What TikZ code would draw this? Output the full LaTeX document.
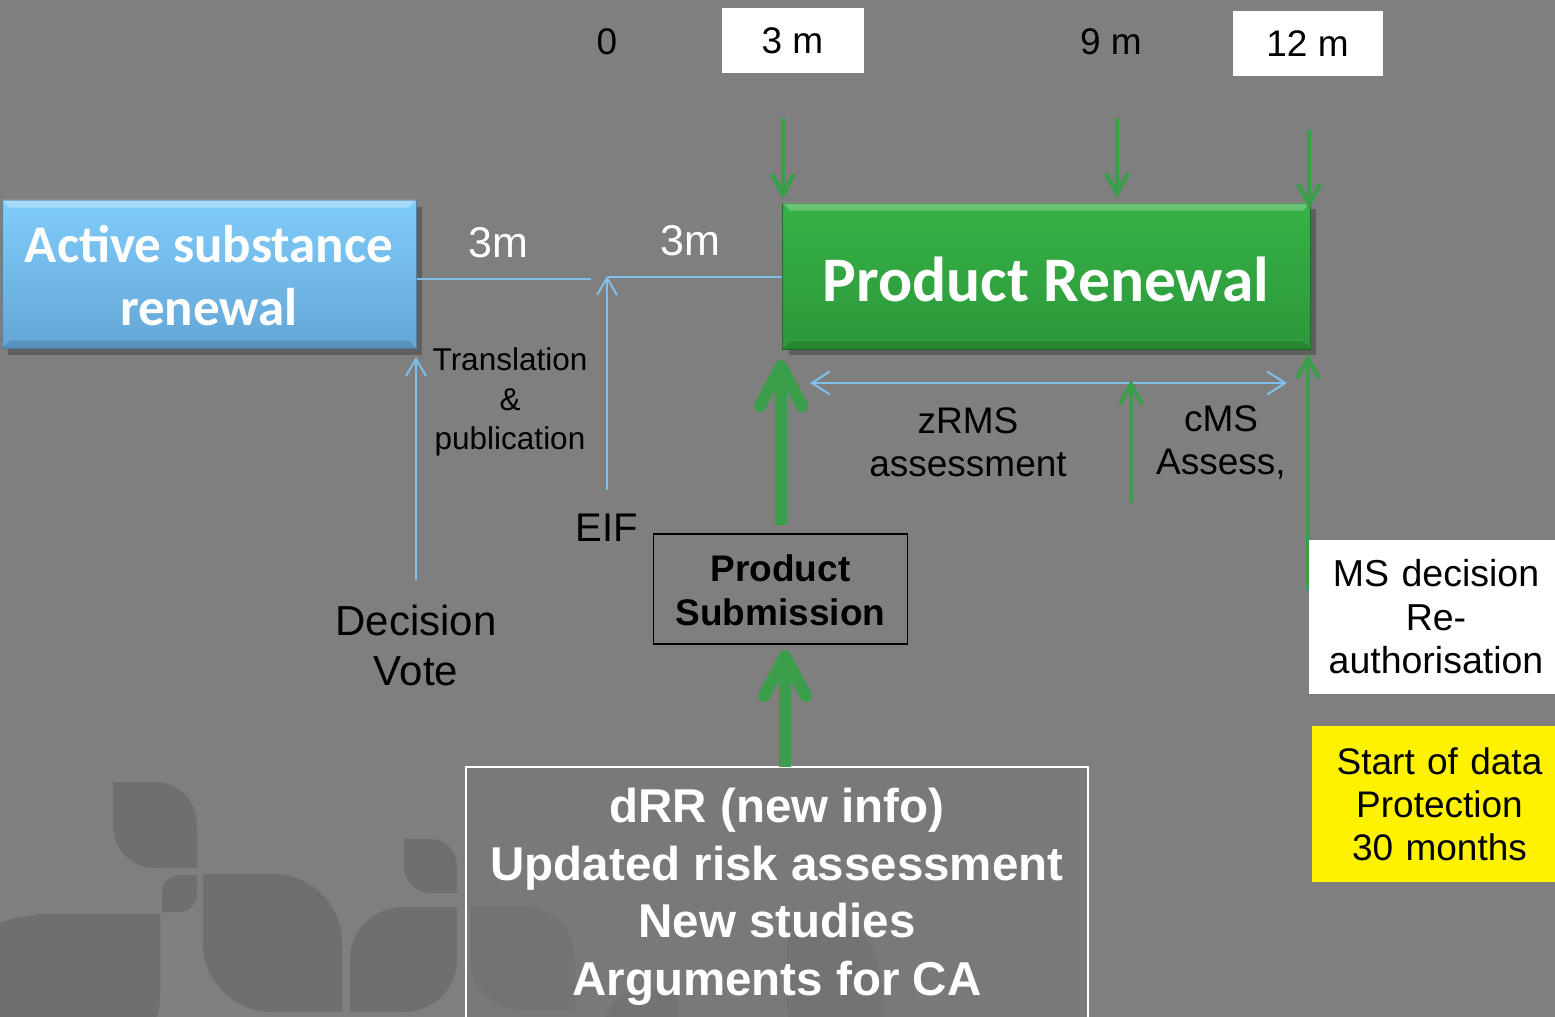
\documentclass[tikz,border=0pt]{standalone}
\usepackage{fontspec}
\setmainfont{Liberation Sans}
\newfontfamily\calibri{Carlito}
\usetikzlibrary{arrows.meta,calc}
\definecolor{bg}{RGB}{127,127,127}
\definecolor{leafc}{RGB}{111,111,111}
\definecolor{boxfade}{RGB}{118,118,118}
\definecolor{lblue}{RGB}{128,192,236}
\definecolor{garrow}{RGB}{58,158,74}
\definecolor{btop}{RGB}{128,204,250}
\definecolor{bbot}{RGB}{100,166,214}
\definecolor{bedge}{RGB}{80,130,175}
\definecolor{gtop}{RGB}{54,178,70}
\definecolor{gbot}{RGB}{44,152,58}
\definecolor{gedge}{RGB}{30,110,40}
% leaf with sharp top-left and bottom-right corners
\newcommand\leafTL[4]{\fill[leafc] (#1,#2) -- ({#3-0.5*(#3-#1)},#2) .. controls ({#3-0.22*(#3-#1)},#2) and (#3,{#2+0.22*(#4-#2)}) .. (#3,{#2+0.5*(#4-#2)}) -- (#3,#4) -- ({#1+0.5*(#3-#1)},#4) .. controls ({#1+0.22*(#3-#1)},#4) and (#1,{#4-0.22*(#4-#2)}) .. (#1,{#4-0.5*(#4-#2)}) -- cycle;}
% leaf with sharp top-right and bottom-left corners
\newcommand\leafTR[4]{\fill[leafc] ({#1+0.5*(#3-#1)},#2) -- (#3,#2) -- (#3,{#2+0.5*(#4-#2)}) .. controls (#3,{#4-0.22*(#4-#2)}) and ({#3-0.22*(#3-#1)},#4) .. ({#3-0.5*(#3-#1)},#4) -- (#1,#4) -- (#1,{#4-0.5*(#4-#2)}) .. controls (#1,{#2+0.22*(#4-#2)}) and ({#1+0.22*(#3-#1)},#2) .. cycle;}
\tikzset{
  fs/.style={font=\fontsize{#1}{#1}\selectfont},
  txt/.style={align=center, inner sep=0pt, text=black},
  thinblue/.style={draw=lblue, line width=2pt},
  bluearrow/.style={thinblue, -{Straight Barb[length=17pt,width=20pt]}},
  greenthin/.style={draw=garrow, line width=4.5pt, -{Straight Barb[length=20pt,width=22pt]}},
  greenthick/.style={draw=garrow, line width=12pt, -{Straight Barb[length=40pt,width=42pt,round]}},
  labelbox/.style={fill=white, inner sep=0pt, txt},
}
\begin{document}
\begin{tikzpicture}[x=1pt,y=-1pt]
\useasboundingbox (0,0) rectangle (1555,1017);
\fill[bg] (0,0) rectangle (1555,1017);
% background leaves
\leafTL{113}{782}{197}{868}
\leafTR{162}{875}{197}{912}
\leafTL{203}{874}{342}{1012}
\leafTL{404}{839}{457}{893}
\leafTR{350}{907}{457}{1012}
\leafTR{-60}{914}{160}{1080}
\leafTL{470}{906}{575}{1010}
\leafTR{603}{990}{677}{1080}
\leafTL{787}{920}{883}{1080}

% top timeline labels
\node[txt, fs=37] (t0) at (607,42) {0};
\node[labelbox, fs=37, minimum width=142pt, minimum height=65pt] (t3) at (792.5,40.5) {3 m};
\node[txt, fs=37] (t9) at (1111,42) {9 m};
\node[labelbox, fs=37, minimum width=150pt, minimum height=65pt] (t12) at (1307.5,43.5) {12 m};

% active substance box
\fill[black, opacity=0.25] (8,207) rectangle (422,355);
\node[draw=bedge, line width=1pt, top color=btop, bottom color=bbot, minimum width=414pt, minimum height=148pt, inner sep=0pt] (as) at (209,274) {};
\fill[white, opacity=0.3] (as.north west) -- (as.north east) -- ([xshift=-8pt,yshift=-8pt]as.north east) -- ([xshift=8pt,yshift=-8pt]as.north west) -- cycle;
\fill[black, opacity=0.12] (as.south west) -- (as.south east) -- ([xshift=-8pt,yshift=8pt]as.south east) -- ([xshift=8pt,yshift=8pt]as.south west) -- cycle;
\node[align=center, text=white, inner sep=0pt, font=\calibri\bfseries\fontsize{53}{63}\selectfont] (astxt) at (209,276) {Active substance\\renewal};

% product renewal box
\fill[black, opacity=0.25] (789,209) rectangle (1316,355);
\node[draw=gedge, line width=1pt, top color=gtop, bottom color=gbot, minimum width=528pt, minimum height=146pt, inner sep=0pt] (pr) at (1046.5,276) {};
\fill[white, opacity=0.25] (pr.north west) -- (pr.north east) -- ([xshift=-8pt,yshift=-8pt]pr.north east) -- ([xshift=8pt,yshift=-8pt]pr.north west) -- cycle;
\fill[black, opacity=0.12] (pr.south west) -- (pr.south east) -- ([xshift=-8pt,yshift=8pt]pr.south east) -- ([xshift=8pt,yshift=8pt]pr.south west) -- cycle;
\node[text=white, inner sep=0pt, font=\calibri\bfseries\fontsize{63.5}{63}\selectfont] (prtxt) at (1046,279) {Product Renewal};

% 3m labels
\node[text=white, inner sep=0pt, fs=43] (m1) at (498,243) {3m};
\node[text=white, inner sep=0pt, fs=43] (m2) at (690,241) {3m};

% blue timeline lines
\coordinate (gapL) at (591,279);
\coordinate (gapR) at (608,277);
\draw[thinblue] (as.east |- gapL) -- (gapL);
\draw[thinblue] (gapR) -- (pr.west |- gapR);

% EIF and translation arrow
\node[txt, fs=40] (eif) at (607,528) {EIF};
\coordinate (eiftop) at (607,490);
\draw[bluearrow] (eiftop) -- (607,276);
\node[txt, fs=31.5] (trans) at (510,402) {Translation\\[8pt]\&\\[8pt]publication};

% decision vote
\node[txt, fs=42] (dv) at (416,645) {Decision\\[8pt]Vote};
\coordinate (dvtop) at (416,580);
\draw[bluearrow] (dvtop) -- (416,357);

% product submission
\node[draw=black, line width=1.5pt, minimum width=254pt, minimum height=110pt, inner sep=0pt] (ps) at (780.5,589) {};
\node[txt, font=\bfseries\fontsize{37}{44}\selectfont] (pstxt) at (780.5,590) {Product\\Submission};

% bottom info box
\fill[boxfade, opacity=0.6] (466,767) rectangle (1088,1030);
\draw[white, line width=2pt] (466,1030) -- (466,767) -- (1088,767) -- (1088,1030);
\coordinate (info) at (785,767);
\node[align=center, text=white, inner sep=0pt, font=\bfseries\fontsize{47.5}{57.5}\selectfont] (infotxt) at (777,897) {dRR (new info)\\Updated risk assessment\\New studies\\Arguments for CA};

% thick green arrows
\coordinate (psin) at (785,650);
\draw[greenthick] (info) -- (psin);
\coordinate (psout) at (781,525);
\draw[greenthick] (psout) -- (781,360);

% green down arrows from timeline to product renewal
\coordinate (d1) at (783,118);
\coordinate (d2) at (1117,118);
\coordinate (d3) at (1309,130);
\draw[greenthin] (d1) -- (783,199);
\draw[greenthin] (d2) -- (1117,198);
\draw[greenthin] (d3) -- (1309,209);

% assessment double arrow
\draw[thinblue, {Straight Barb[length=18pt,width=23pt]}-{Straight Barb[length=18pt,width=23pt]}] (810,383) -- (1287,383);
\node[txt, fs=37] (zrms) at (968,442) {zRMS\\[6pt]assessment};
\node[txt, fs=37] (cms) at (1221,442) {cMS\\[6pt]Assess,};
\draw[greenthin, line width=4pt, -{Straight Barb[length=20pt,width=22pt]}] (1131,503) -- (1131,380);

% MS decision arrow and box
\coordinate (msbot) at (1308,590);
\draw[greenthin, line width=4pt, -{Straight Barb[length=20pt,width=22pt]}] (msbot) -- (1308,354);
\node[labelbox, fs=37.5, minimum width=254pt, minimum height=154pt, text width=254pt] (ms) at (1436,617) {MS decision\\[6pt]Re-\\[6pt]authorisation};

% data protection box
\node[fill=yellow, txt, fs=37, minimum width=255pt, minimum height=156pt, text width=255pt] (dp) at (1439.5,804) {Start of data\\[6pt]Protection\\[6pt]30 months};
\end{tikzpicture}
\end{document}
